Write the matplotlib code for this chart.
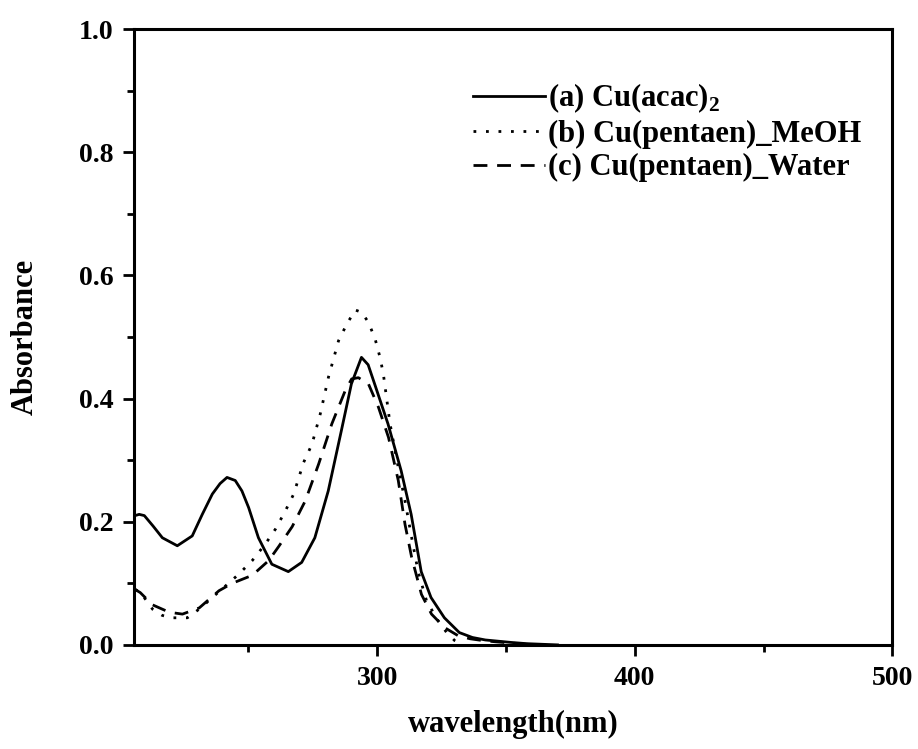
import matplotlib
matplotlib.use("Agg")
import matplotlib.pyplot as plt
from matplotlib.ticker import MultipleLocator, FixedLocator

plt.rcParams['font.family'] = ['Liberation Serif', 'DejaVu Serif']
plt.rcParams['font.weight'] = 'bold'
plt.rcParams['mathtext.fontset'] = 'custom'
plt.rcParams['mathtext.rm'] = 'Liberation Serif:bold'
plt.rcParams['mathtext.bf'] = 'Liberation Serif:bold'

# (a) Cu(acac)2
wl_a = [206, 207.6, 209.6, 213, 216.6, 222.4, 228.2, 232.1, 236, 239, 241.7, 244.9, 247.5,
        250.1, 253.9, 259.1, 265.5, 270.7, 275.8, 281, 286.1, 290, 293.9, 296.5, 299,
        304.2, 309.3, 313.2, 317.1, 320.9, 326.1, 331.9, 337, 342, 347, 352, 358, 364, 370]
abs_a = [0.21, 0.212, 0.21, 0.193, 0.174, 0.161, 0.177, 0.212, 0.245, 0.262, 0.272, 0.267, 0.25,
         0.223, 0.174, 0.131, 0.119, 0.134, 0.174, 0.250, 0.348, 0.424, 0.467, 0.455, 0.424,
         0.359, 0.283, 0.212, 0.119, 0.077, 0.044, 0.02, 0.012, 0.008, 0.006, 0.004, 0.002, 0.001, 0.0]

# (b) Cu(pentaen)_MeOH
wl_b = [206, 208, 212.8, 216.5, 219.9, 226.3, 231.5, 236, 241.2, 246.3, 251.5, 256.6, 260.5,
        264.4, 267.6, 271.4, 274.7, 277.9, 281.1, 285, 288.2, 291.5, 294, 296.6, 299.2,
        301.1, 302.4, 305, 308.2, 310.8, 313.4, 315.9, 319.2, 323.7, 327, 330.1, 333]
abs_b = [0.09, 0.086, 0.058, 0.048, 0.044, 0.044, 0.06, 0.077, 0.096, 0.115, 0.137, 0.164, 0.188,
         0.218, 0.245, 0.296, 0.326, 0.375, 0.435, 0.494, 0.521, 0.544, 0.54, 0.524, 0.497,
         0.467, 0.44, 0.359, 0.288, 0.234, 0.174, 0.119, 0.071, 0.039, 0.02, 0.007, 0.0]

# (c) Cu(pentaen)_Water
wl_c = [206, 208, 212.8, 219.3, 224.4, 230.9, 238.6, 243.7, 251.5, 257.9, 261.8, 267, 272.1,
        277.3, 282.4, 287.6, 290.1, 292.7, 296.6, 300.5, 304.4, 308.2, 310.8, 313.4, 317.2,
        321.1, 326.2, 331.4, 336, 341, 346, 352, 358, 365]
abs_c = [0.09, 0.085, 0.065, 0.053, 0.05, 0.06, 0.088, 0.1, 0.113, 0.137, 0.16, 0.192, 0.234,
         0.294, 0.359, 0.413, 0.432, 0.434, 0.424, 0.386, 0.337, 0.267, 0.196, 0.142, 0.082,
         0.05, 0.028, 0.015, 0.01, 0.007, 0.005, 0.003, 0.001, 0.0]

labels = ['(a) Cu(acac)$_{2}$', '(b) Cu(pentaen)_MeOH', '(c) Cu(pentaen)_Water']

fig = plt.figure(figsize=(9.18, 7.49), dpi=100)
ax = fig.add_axes([0.146, 0.139, 0.826, 0.822])

ax.plot(wl_a, abs_a, color='black', lw=2.0, ls='-', label=labels[0])
ax.plot(wl_b, abs_b, color='black', lw=2.0, ls=(0, (1, 3.5)), label=labels[1])
ax.plot(wl_c, abs_c, color='black', lw=2.0, ls=(0, (5, 3.5)), label=labels[2])

ax.set_xlim(205.6, 500)
ax.set_ylim(0, 1.0)
ax.xaxis.set_major_locator(FixedLocator([300, 400, 500]))
ax.xaxis.set_minor_locator(FixedLocator([250, 350, 450]))
ax.yaxis.set_major_locator(MultipleLocator(0.2))
ax.yaxis.set_minor_locator(MultipleLocator(0.1))
ax.yaxis.set_major_formatter(plt.FormatStrFormatter('%.1f'))

ax.tick_params(which='major', direction='out', length=8, width=2, labelsize=20, pad=7)
ax.tick_params(which='minor', direction='out', length=5, width=2)
for s in ax.spines.values():
    s.set_linewidth(2.2)

ax.set_xlabel('wavelength(nm)', fontsize=22, fontweight='bold', labelpad=14)
ax.set_ylabel('Absorbance', fontsize=22, fontweight='bold', labelpad=28)

leg = ax.legend(loc='upper left', bbox_to_anchor=(0.447, 0.915), frameon=False,
                borderpad=0, borderaxespad=0,
                fontsize=22, handlelength=2.35, handletextpad=0.1, labelspacing=0.15)

fig.savefig('out.png', dpi=100)
